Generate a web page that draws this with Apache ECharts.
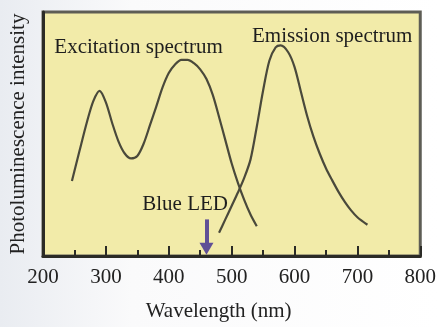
<!DOCTYPE html>
<html>
<head>
<meta charset="utf-8">
<script src="https://cdn.jsdelivr.net/npm/echarts@6/dist/echarts.min.js"></script>
<style>
  html, body { margin: 0; padding: 0; background: #fff; }
  #chart { width: 439px; height: 327px; }
</style>
</head>
<body>
<div id="chart"></div>
<script>
// wavelength (nm) / relative intensity
const excitationNm = [246, 258, 270, 280, 290, 300, 310, 320, 330, 340, 350, 360, 370, 380, 390,
  400, 410, 420, 430, 440, 450, 460, 470, 480, 490, 500, 510, 520, 530, 540]
const excitationVal = [30.7, 43, 55, 63.5, 67.7, 63, 54.5, 47, 42, 40, 41, 46, 53.5, 61.1, 69,
  75, 78.5, 80.4, 80.4, 79, 76.5, 72.5, 66, 57, 47.5, 38, 30, 23, 17, 12.2]
const emissionNm = [480, 490, 500, 510, 520, 530, 540, 550, 560, 570, 578, 590, 600, 610, 620,
  630, 640, 650, 660, 670, 680, 690, 700, 716]
const emissionVal = [9.5, 15, 20.5, 26, 32, 39.5, 53, 67.7, 80, 85.5, 86.3, 83.5, 77.5, 67.5, 57.5,
  49, 42, 36, 31, 26.3, 22.2, 18.7, 15.9, 12.8]

const xTicks = [200, 300, 400, 500, 600, 700, 800]
const ledNm = 460
const ledArrow = [15, 3]

// annotation anchors [nm, intensity, text]
const labels = [
  [352, 85.4, 'Excitation spectrum'],
  [660, 90.1, 'Emission spectrum'],
  [426, 21, 'Blue LED'],
]

const font = '"Liberation Serif", "DejaVu Serif", serif'
const lineColor = '#4a493b'

const chart = echarts.init(document.getElementById('chart'))

const toPairs = (xs, ys) => xs.map((x, i) => [x, ys[i]])

chart.setOption({
  animation: false,
  backgroundColor: new echarts.graphic.LinearGradient(0, 0, 1, 0, [
    { offset: 0, color: '#e9ecf1' },
    { offset: 0.3, color: '#fafafb' },
    { offset: 1, color: '#ffffff' },
  ]),
  grid: {
    left: 36,
    right: 13,
    top: 12,
    bottom: 62,
    show: true,
    backgroundColor: '#f2eba9',
    borderColor: '#5e5d55',
    borderWidth: 3,
  },
  xAxis: {
    type: 'value',
    min: xTicks[0],
    max: xTicks[xTicks.length - 1],
    interval: 100,
    name: 'Wavelength (nm)',
    nameLocation: 'middle',
    nameGap: 45,
    nameTextStyle: { fontFamily: font, fontSize: 21, color: '#222', padding: [0, 26, 0, 0] },
    axisLine: { show: true, lineStyle: { color: '#2b2b26', width: 3 } },
    axisTick: { show: true, inside: true, length: 10, lineStyle: { color: '#2b2b26', width: 2 } },
    minorTick: { show: true, splitNumber: 2, length: 6, lineStyle: { color: '#2b2b26', width: 2 } },
    axisLabel: { fontFamily: font, fontSize: 21, color: '#222', margin: 11 },
    splitLine: { show: false },
  },
  yAxis: {
    type: 'value',
    min: 0,
    max: 100,
    name: 'Photoluminescence intensity',
    nameLocation: 'middle',
    nameGap: 14,
    nameTextStyle: { fontFamily: font, fontSize: 21, color: '#222' },
    axisLine: { show: true, lineStyle: { color: '#2b2b26', width: 3 } },
    axisTick: { show: false },
    axisLabel: { show: false },
    splitLine: { show: false },
  },
  series: [
    {
      name: 'Excitation',
      type: 'line',
      data: toPairs(excitationNm, excitationVal),
      smooth: 0.3,
      showSymbol: false,
      lineStyle: { color: lineColor, width: 2.2 },
      markPoint: {
        symbol: 'circle',
        symbolSize: 0,
        label: {
          show: true,
          position: 'inside',
          fontFamily: font,
          fontSize: 21,
          color: '#1e1e1e',
          formatter: (p) => p.name,
        },
        data: labels.map(([x, y, t]) => ({ name: t, coord: [x, y] })),
      },
    },
    {
      name: 'Emission',
      type: 'line',
      data: toPairs(emissionNm, emissionVal),
      smooth: 0.3,
      showSymbol: false,
      lineStyle: { color: lineColor, width: 2.2 },
      markLine: {
        silent: true,
        symbol: ['none', 'triangle'],
        symbolSize: [14, 12],
        label: { show: false },
        lineStyle: { color: '#604f96', width: 4, type: 'solid' },
        data: [[
          { coord: [ledNm, ledArrow[0]] },
          { coord: [ledNm, ledArrow[1]] },
        ]],
      },
    },
  ],
})
</script>
</body>
</html>
